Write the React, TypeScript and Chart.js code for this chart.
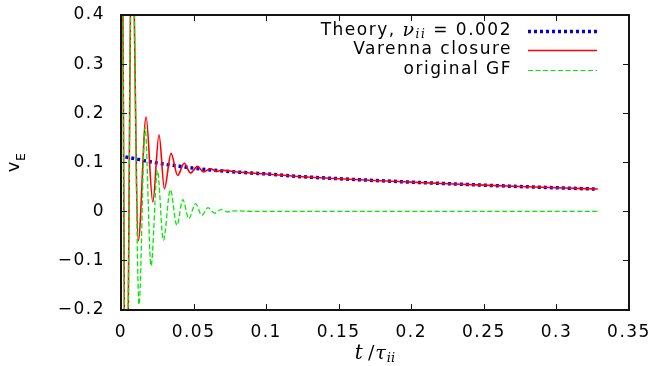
import React, { useEffect, useRef } from "react";
import { Chart, registerables } from "chart.js";

Chart.register(...registerables);

// ---- data ----
const theoryT = [0.003, 0.01, 0.02, 0.03, 0.04, 0.05, 0.06, 0.07, 0.08, 0.09, 0.1, 0.125, 0.15, 0.175, 0.2, 0.225, 0.25, 0.275, 0.3, 0.3285];
const theoryV = [0.111, 0.107, 0.101, 0.096, 0.092, 0.088, 0.0848, 0.0822, 0.08, 0.078, 0.0762, 0.0705, 0.0665, 0.0628, 0.0595, 0.0563, 0.0533, 0.0505, 0.048, 0.0452];

const varennaT = [0.001, 0.0034, 0.0076, 0.0119, 0.0173, 0.0219, 0.0262, 0.0299, 0.0345, 0.039, 0.0435, 0.0479, 0.0527, 0.0569, 0.0615, 0.066, 0.07, 0.08, 0.09, 0.1, 0.125, 0.15, 0.175, 0.2, 0.225, 0.25, 0.275, 0.3, 0.3285];
const varennaV = [0.6, -0.6, 0.6, -0.06, 0.192, 0.019, 0.156, 0.046, 0.118, 0.073, 0.098, 0.078, 0.0915, 0.08, 0.0867, 0.0815, 0.0835, 0.08, 0.078, 0.0762, 0.0705, 0.0665, 0.0628, 0.0595, 0.0563, 0.0533, 0.0505, 0.048, 0.0455];

const gfT = [0.001, 0.0034, 0.0076, 0.0124, 0.0166, 0.0207, 0.0251, 0.0292, 0.034, 0.0385, 0.0426, 0.0467, 0.0513, 0.0557, 0.0599, 0.0645, 0.0689, 0.073, 0.078, 0.09, 0.12, 0.15, 0.2, 0.25, 0.3, 0.3285];
const gfV = [0.6, -0.6, 0.6, -0.19, 0.171, -0.111, 0.083, -0.059, 0.044, -0.0285, 0.0237, -0.015, 0.0156, -0.008, 0.0075, -0.0035, 0.0035, -0.001, 0.001, 0, 0, 0, 0, 0, 0, 0];

const xTickValues = [0, 0.05, 0.1, 0.15, 0.2, 0.25, 0.3, 0.35];
const xTickLabels = ["0", "0.05", "0.1", "0.15", "0.2", "0.25", "0.3", "0.35"];
const yTickValues = [-0.2, -0.1, 0, 0.1, 0.2, 0.3, 0.4];
const yTickLabels = ["\u22120.2", "\u22120.1", "0", "0.1", "0.2", "0.3", "0.4"];

const seriesNames = ["Theory", "Varenna closure", "original GF"];
const theoryNu = "0.002";

const BLUE = "rgb(0,0,235)";
const RED = "rgb(255,0,0)";
const GREEN = "rgb(0,235,0)";
const SANS = '"DejaVu Sans", sans-serif';
const SERIF = '"DejaVu Serif", serif';
const FS = 17;
const LS = "1.5px";

const toPoints = (t: number[], v: number[]) => t.map((x, i) => ({ x, y: v[i] }));

const framePlugin = {
  id: "frame",
  beforeUpdate(chart: any) {
    (chart.ctx as any).letterSpacing = LS;
  },
  beforeDraw(chart: any) {
    (chart.ctx as any).letterSpacing = LS;
  },
  afterDraw(chart: any) {
    const ctx = chart.ctx as CanvasRenderingContext2D;
    const xs = chart.scales.x;
    const ys = chart.scales.y;
    const L = Math.round(xs.getPixelForValue(0));
    const R = Math.round(xs.getPixelForValue(0.35));
    const T = Math.round(ys.getPixelForValue(0.4));
    const B = Math.round(ys.getPixelForValue(-0.2));
    ctx.save();
    ctx.globalAlpha = 1;
    ctx.globalCompositeOperation = "source-over";
    ctx.fillStyle = "rgb(20,20,20)";
    // frame as filled thin rectangles
    const fw = 2;
    ctx.fillRect(L - 1, T - 1, R - L + 2, fw);
    ctx.fillRect(L - 1, B - 1, R - L + 2, fw);
    ctx.fillRect(L - 1, T - 1, fw, B - T + 2);
    ctx.fillRect(R - 1, T - 1, fw, B - T + 2);
    // inward ticks on all sides
    const tl = 6;
    xTickValues.forEach((v) => {
      const p = Math.round(xs.getPixelForValue(v));
      ctx.fillRect(p, B - tl, 1, tl);
      ctx.fillRect(p, T, 1, tl);
    });
    yTickValues.forEach((v) => {
      const p = Math.round(ys.getPixelForValue(v));
      ctx.fillRect(L, p, tl, 1);
      ctx.fillRect(R - tl, p, tl, 1);
    });

    // legend
    (ctx as any).letterSpacing = LS;
    ctx.fillStyle = "#000";
    ctx.textBaseline = "middle";
    const textRight = 512;
    const rows = [31, 50, 70];
    {
      const parts = [
        { t: seriesNames[0] + ", ", f: `${FS}px ${SANS}`, dy: 0 },
        { t: "\u03BD", f: `italic ${FS + 2}px ${SERIF}`, dy: 0 },
        { t: "ii", f: `italic ${FS - 5}px ${SERIF}`, dy: 4 },
        { t: " = " + theoryNu, f: `${FS}px ${SANS}`, dy: 0 },
      ];
      let w = 0;
      parts.forEach((p) => {
        ctx.font = p.f;
        w += ctx.measureText(p.t).width;
      });
      let x = textRight - w;
      ctx.textAlign = "left";
      parts.forEach((p) => {
        ctx.font = p.f;
        ctx.fillText(p.t, x, rows[0] + p.dy);
        x += ctx.measureText(p.t).width;
      });
    }
    ctx.textAlign = "right";
    ctx.font = `${FS}px ${SANS}`;
    ctx.fillText(seriesNames[1], textRight, rows[1]);
    ctx.fillText(seriesNames[2], textRight, rows[2]);
    (ctx as any).letterSpacing = "0px";
    const sx0 = 528;
    const sx1 = 597;
    const samples = [
      { c: BLUE, w: 3.5, d: [3, 3] },
      { c: RED, w: 1.5, d: [] as number[] },
      { c: GREEN, w: 1.2, d: [5, 2.5] },
    ];
    samples.forEach((s, i) => {
      ctx.beginPath();
      ctx.strokeStyle = s.c;
      ctx.lineWidth = s.w;
      ctx.setLineDash(s.d);
      ctx.moveTo(sx0, rows[i] + 0.5);
      ctx.lineTo(sx1, rows[i] + 0.5);
      ctx.stroke();
    });
    ctx.setLineDash([]);

    // y title: v_E (rotated)
    ctx.save();
    ctx.translate(17, 163);
    ctx.rotate(-Math.PI / 2);
    ctx.textAlign = "left";
    ctx.textBaseline = "alphabetic";
    ctx.font = `18px ${SANS}`;
    const wv = ctx.measureText("v").width;
    ctx.font = `12.5px ${SANS}`;
    const we = ctx.measureText("E").width;
    const sx = -(wv + we) / 2;
    ctx.font = `18px ${SANS}`;
    ctx.fillText("v", sx, 2);
    ctx.font = `12.5px ${SANS}`;
    ctx.fillText("E", sx + wv + 0.5, 8);
    ctx.restore();

    // x title: t / τ_ii
    {
      ctx.textAlign = "left";
      ctx.textBaseline = "alphabetic";
      const parts = [
        { t: "t", f: `italic 20px ${SERIF}`, dy: 0, gap: 5 },
        { t: "/", f: `19px ${SERIF}`, dy: 0, gap: 1 },
        { t: "\u03C4", f: `italic 19px ${SERIF}`, dy: 0, gap: 1 },
        { t: "ii", f: `italic 13px ${SERIF}`, dy: 3, gap: 0 },
      ];
      let w = 0;
      parts.forEach((p) => {
        ctx.font = p.f;
        w += ctx.measureText(p.t).width + p.gap;
      });
      let x = (L + R) / 2 - w / 2;
      parts.forEach((p) => {
        ctx.font = p.f;
        ctx.fillText(p.t, x, 359 + p.dy);
        x += ctx.measureText(p.t).width + p.gap;
      });
    }
    ctx.restore();
  },
};

export default function App() {
  const ref = useRef<HTMLCanvasElement | null>(null);
  useEffect(() => {
    document.body.style.margin = "0";
    const canvas = ref.current;
    if (!canvas) return;
    const chart = new Chart(canvas, {
      type: "line",
      data: {
        datasets: [
          {
            label: seriesNames[2],
            data: toPoints(gfT, gfV),
            borderColor: GREEN,
            borderWidth: 1.3,
            borderDash: [5, 2.5],
            pointRadius: 0,
            cubicInterpolationMode: "monotone",
            clip: 0,
            order: 0,
          },
          {
            label: seriesNames[1],
            data: toPoints(varennaT, varennaV),
            borderColor: RED,
            borderWidth: 1.6,
            pointRadius: 0,
            cubicInterpolationMode: "monotone",
            clip: 0,
            order: 1,
          },
          {
            label: seriesNames[0],
            data: toPoints(theoryT, theoryV),
            borderColor: BLUE,
            borderWidth: 3.5,
            borderDash: [3, 3],
            pointRadius: 0,
            cubicInterpolationMode: "monotone",
            clip: 0,
            order: 2,
          },
        ],
      },
      options: {
        animation: false,
        responsive: false,
        devicePixelRatio: 1,
        layout: { padding: { top: 15, right: 24, left: 0, bottom: 0 } },
        plugins: {
          legend: { display: false },
          tooltip: { enabled: false },
        },
        scales: {
          x: {
            type: "linear",
            min: 0,
            max: 0.35,
            grid: { display: false, drawTicks: false },
            border: { display: false },
            afterBuildTicks: (s: any) => {
              s.ticks = xTickValues.map((v) => ({ value: v }));
            },
            afterFit: (s: any) => {
              s.height = 56.5;
              s.paddingLeft = 0;
              s.paddingRight = 0;
            },
            ticks: {
              color: "#000",
              font: { family: SANS, size: FS },
              padding: 13,
              maxRotation: 0,
              autoSkip: false,
              callback: (_v: any, i: number) => xTickLabels[i],
            },
          },
          y: {
            type: "linear",
            min: -0.2,
            max: 0.4,
            grid: { display: false, drawTicks: false },
            border: { display: false },
            afterBuildTicks: (s: any) => {
              s.ticks = yTickValues.map((v) => ({ value: v }));
            },
            afterFit: (s: any) => {
              s.width = 121;
              s.paddingTop = 0;
              s.paddingBottom = 0;
            },
            ticks: {
              color: "#000",
              font: { family: SANS, size: FS },
              padding: 16,
              autoSkip: false,
              callback: (_v: any, i: number) => yTickLabels[i],
            },
          },
        },
      },
      plugins: [framePlugin],
    } as any);
    return () => chart.destroy();
  }, []);
  return (
    <div style={{ position: "absolute", left: 0, top: 0, width: 653, height: 366 }}>
      <canvas ref={ref} width={653} height={366} style={{ width: 653, height: 366 }} />
    </div>
  );
}
